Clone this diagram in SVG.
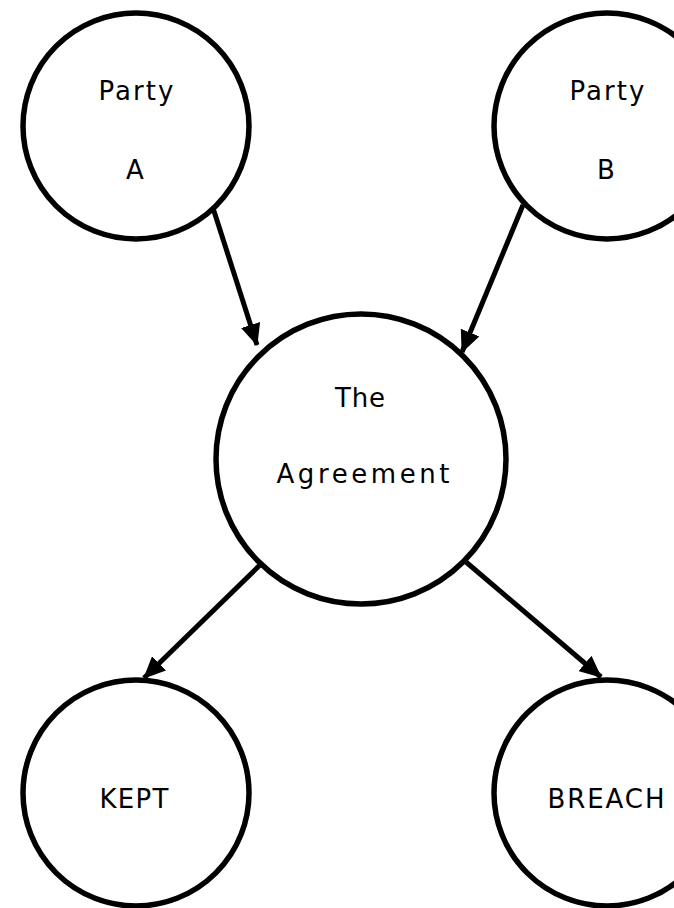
<svg xmlns="http://www.w3.org/2000/svg" width="674" height="908" viewBox="0 0 674 908">
<style>
.node circle{fill:#fff;stroke:#000;stroke-width:5.5}
.node text{font-family:"DejaVu Sans",sans-serif;font-size:26px;fill:#000;text-anchor:middle}
.conn line{stroke:#000;stroke-width:5}
</style>
<defs>
<marker id="ah" markerUnits="userSpaceOnUse" markerWidth="22" markerHeight="20" viewBox="0 0 22 20" refX="21" refY="10" orient="auto">
<path d="M0,0 L22,10 L0,20 Z" fill="#000"/>
</marker>
</defs>
<rect width="674" height="908" fill="#fff"/>
<g class="conn">
<line x1="213" y1="208" x2="257" y2="345" marker-end="url(#ah)"/>
<line x1="523" y1="205" x2="462" y2="352" marker-end="url(#ah)"/>
<line x1="260" y1="565" x2="144" y2="678" marker-end="url(#ah)"/>
<line x1="466" y1="562" x2="601" y2="677" marker-end="url(#ah)"/>
</g>
<g id="partyA" class="node">
<circle cx="136" cy="126" r="113"/>
<text x="136" y="100" textLength="75" lengthAdjust="spacing">Party</text>
<text x="135" y="179">A</text>
</g>
<g id="partyB" class="node">
<circle cx="607" cy="126" r="113"/>
<text x="607" y="100" textLength="75" lengthAdjust="spacing">Party</text>
<text x="606" y="179">B</text>
</g>
<g id="agreement" class="node">
<circle cx="361" cy="459" r="145"/>
<text x="360" y="407" textLength="50" lengthAdjust="spacing">The</text>
<text x="363" y="483" textLength="173" lengthAdjust="spacing">Agreement</text>
</g>
<g id="kept" class="node">
<circle cx="136" cy="793" r="113"/>
<text x="134" y="808" textLength="69" lengthAdjust="spacing">KEPT</text>
</g>
<g id="breach" class="node">
<circle cx="607" cy="793" r="113"/>
<text x="606" y="808" textLength="117" lengthAdjust="spacing">BREACH</text>
</g>
</svg>
